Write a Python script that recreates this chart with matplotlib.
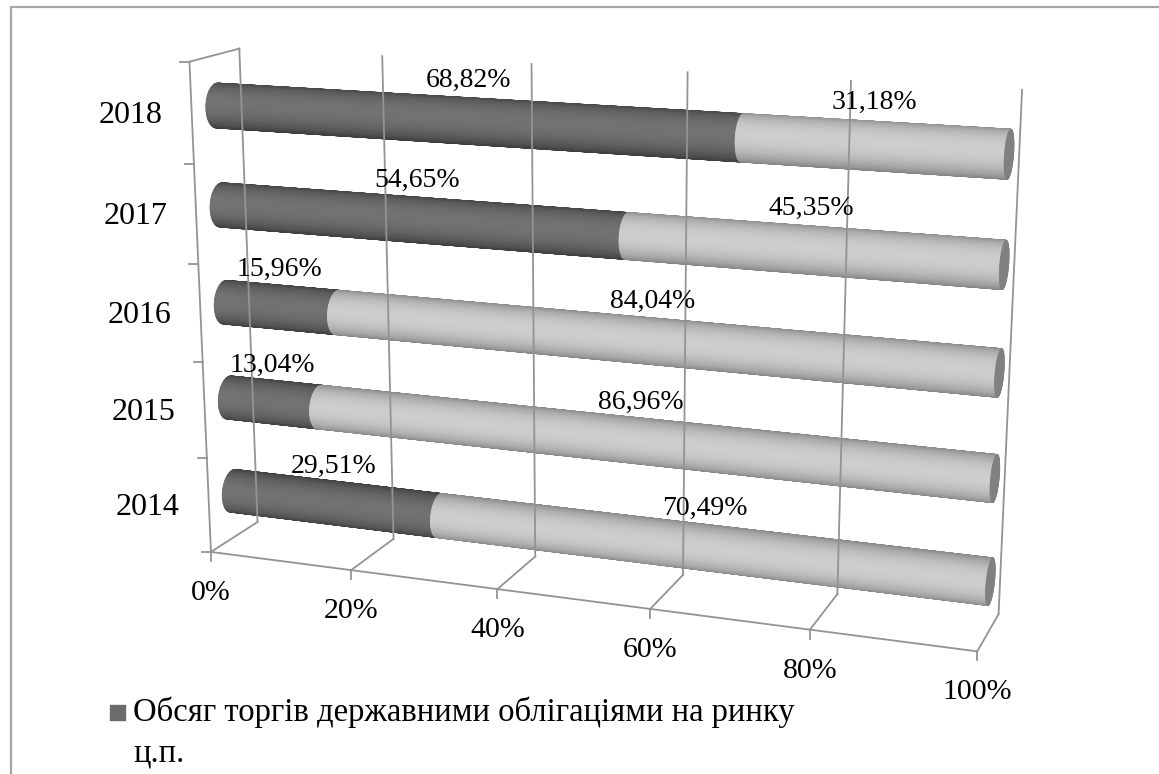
import numpy as np
import matplotlib
matplotlib.use('Agg')
import matplotlib.pyplot as plt
from matplotlib.collections import PolyCollection
from matplotlib.patches import Rectangle

years = ['2014', '2015', '2016', '2017', '2018']
bonds_share = [29.51, 13.04, 15.96, 54.65, 68.82]
other_share = [70.49, 86.96, 84.04, 45.35, 31.18]
value_ticks = [0, 20, 40, 60, 80, 100]
legend_label = 'Обсяг торгів державними облігаціями на ринку\nц.п.'

plt.rcParams['font.family'] = ['Liberation Serif', 'DejaVu Serif']

W, H = 1159, 774

# 3D box of the chart: (value 0..1, height 0..1, depth 0..1) and where those
# corners land on the canvas (pixels); a pinhole camera is fitted to them
box_xyz = [(0, 0, 0), (1, 0, 0), (0, 1, 0), (0, 0, 1), (0, 1, 1), (1, 1, 1), (1, 0, 1),
           (0.2, 0, 0), (0.4, 0, 0), (0.6, 0, 0), (0.8, 0, 0),
           (0.2, 0, 1), (0.4, 0, 1), (0.6, 0, 1),
           (0.2, 1, 1), (0.4, 1, 1), (0.8, 1, 1),
           (0, 0.2, 0), (0, 0.4, 0), (0, 0.6, 0), (0, 0.8, 0)]
box_px = [(211, 553), (978, 650), (190, 62), (258, 522), (238, 48), (1023, 88), (998, 615),
          (351, 572), (497, 592), (649, 609), (809, 629),
          (393, 538), (536, 557), (684, 573),
          (382, 57), (531, 65), (851, 83),
          (207, 457), (203, 360), (199, 263), (194, 164)]


def fit_camera(world, pix):
    rows = []
    for (X, Y, Z), (u, v) in zip(world, pix):
        u, v = u / 1000.0, v / 1000.0
        rows.append([X, Y, Z, 1, 0, 0, 0, 0, -u * X, -u * Y, -u * Z, -u])
        rows.append([0, 0, 0, 0, X, Y, Z, 1, -v * X, -v * Y, -v * Z, -v])
    P = np.linalg.svd(np.array(rows))[2][-1].reshape(3, 4)
    if (P @ [0.5, 0.5, 0.5, 1])[2] < 0:
        P = -P
    return P


P = fit_camera(box_xyz, box_px)


def proj(pts):
    pts = np.atleast_2d(np.asarray(pts, float))
    h = np.c_[pts, np.ones(len(pts))] @ P.T
    return np.c_[h[:, 0] / h[:, 2], h[:, 1] / h[:, 2]] * 1000.0, h[:, 2]


fig = plt.figure(figsize=(W / 100, H / 100), dpi=100)
ax = fig.add_axes([0, 0, 1, 1])
ax.set_xlim(0, W)
ax.set_ylim(H, 0)
ax.axis('off')

# outer chart border
ax.plot([11, 11, W + 5], [H + 5, 7, 7], color='#a6a6a6', lw=1.6, solid_joinstyle='miter')

grid_c = '#939393'
grid_lw = 1.3


def line3d(a, b, **kw):
    xy, _ = proj([a, b])
    ax.plot(xy[:, 0], xy[:, 1], color=grid_c, lw=grid_lw, **kw)


# walls, floor and gridlines
line3d((0, 0, 0), (0, 1, 0))
line3d((0, 1, 0), (0, 1, 1))
line3d((0, 0, 0), (1, 0, 0))
for v in value_ticks:
    x = v / 100
    line3d((x, 0, 0), (x, 0, 1))
    line3d((x, 0, 1), (x, 1, 1))
    p, _ = proj([(x, 0, 0)])
    ax.plot([p[0, 0], p[0, 0]], [p[0, 1], p[0, 1] + 9], color=grid_c, lw=grid_lw)
    ax.text(p[0, 0], p[0, 1] + 41, f'{v}%', ha='center', va='center', fontsize=21.5)

n_cat = len(years)
for k in range(n_cat + 1):
    p, _ = proj([(0, k / n_cat, 0)])
    ax.plot([p[0, 0] - 9, p[0, 0]], [p[0, 1], p[0, 1]], color=grid_c, lw=grid_lw)
for i, yr in enumerate(years):
    p, _ = proj([(0, (i + 0.5) / n_cat, 0)])
    ax.text(p[0, 0] - 29, p[0, 1] + 2, yr, ha='right', va='center', fontsize=23)

# cylinders
RY, RZ, ZC = 0.044, 0.22, 0.5
T_LIGHT = 1.25
n_strip = 96
ang = np.linspace(-np.pi, np.pi, n_strip + 1)


def ring(x, yc, t):
    return np.c_[np.full_like(t, x), yc + RY * np.cos(t), ZC - RZ * np.sin(t)]


def cylinder(x0, x1, yc, lo, hi, cap=None):
    polys, cols, depth = [], [], []
    for k in range(n_strip):
        ta, tb = ang[k], ang[k + 1]
        tm = 0.5 * (ta + tb)
        quad = np.vstack([ring(x0, yc, np.array([ta, tb])), ring(x1, yc, np.array([tb, ta]))])
        xy, _ = proj(quad)
        _, d = proj(ring(0.5 * (x0 + x1), yc, np.array([tm])))
        f = max(0.0, np.cos(tm - T_LIGHT)) ** 1.3
        g = lo + (hi - lo) * f
        polys.append(xy)
        cols.append((g, g, g))
        depth.append(d[0])
    order = np.argsort(depth)[::-1]
    polys = [polys[j] for j in order]
    cols = [cols[j] for j in order]
    ax.add_collection(PolyCollection(polys, facecolors=cols, edgecolors=cols, linewidths=0.7))
    if cap is not None:
        xy, _ = proj(ring(x1, yc, np.linspace(0, 2 * np.pi, 60)))
        ax.fill(xy[:, 0], xy[:, 1], color=(cap, cap, cap), lw=0.6)


def fmt(v):
    return f'{v:.2f}'.replace('.', ',') + '%'


for i, (a, b) in enumerate(zip(bonds_share, other_share)):
    yc = (i + 0.5) / n_cat
    xa = a / 100
    xb = (a + b) / 100
    cylinder(0, xa, yc, 0.24, 0.45)
    cylinder(xa, xb, yc, 0.52, 0.81, cap=0.5)
    for xc, v in ((xa / 2, a), ((xa + xb) / 2, b)):
        p, _ = proj([(xc, yc + 0.078, ZC)])
        ax.text(p[0, 0], p[0, 1], fmt(v), ha='center', va='center', fontsize=20)

# legend
ax.add_patch(Rectangle((110, 705), 15, 15, color='#6b6b6b'))
ax.text(133, 697, legend_label, ha='left', va='top', fontsize=23.5, linespacing=1.4)

fig.savefig('out.png', dpi=100)
